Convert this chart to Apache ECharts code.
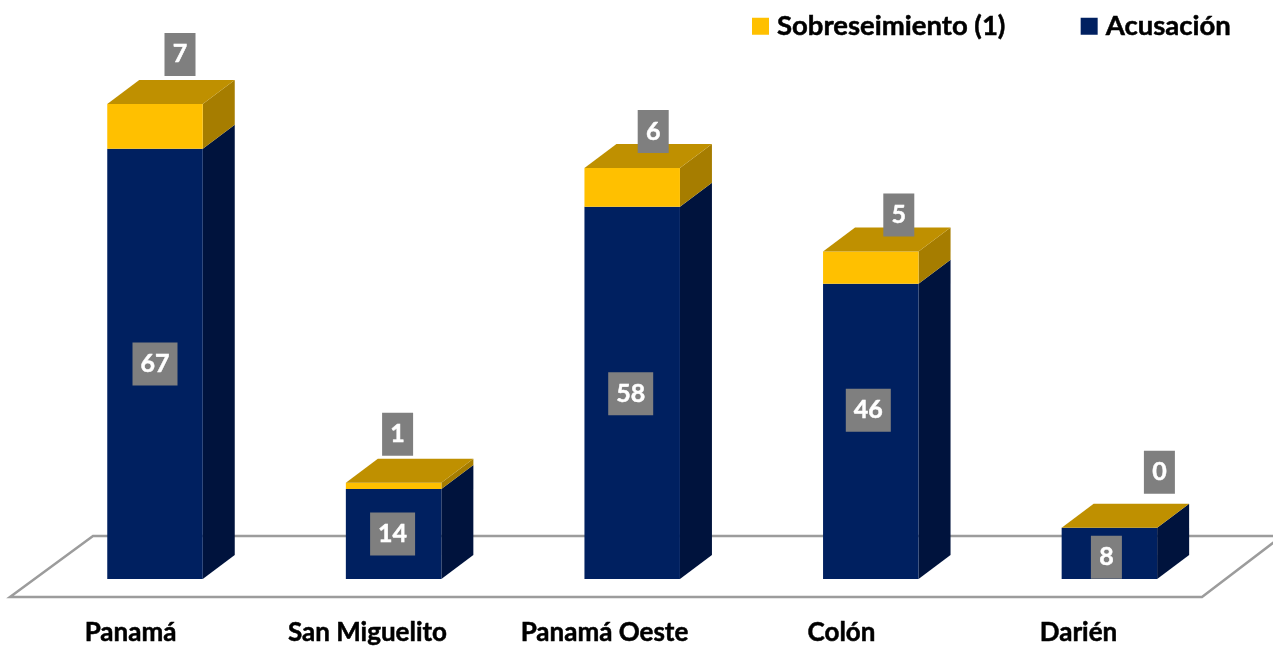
<!DOCTYPE html>
<html>
<head>
<meta charset="utf-8">
<style>html,body{margin:0;padding:0;background:#fff}#c{width:1273px;height:646px}</style>
<script src="https://cdn.jsdelivr.net/npm/echarts@6/dist/echarts.min.js"></script>
</head>
<body>
<div id="c"></div>
<script>
const categories = ['Panamá', 'San Miguelito', 'Panamá Oeste', 'Colón', 'Darién'];
const acusacion = [67, 14, 58, 46, 8];
const sobreseimiento = [7, 1, 6, 5, 0];

const FONT = 'Lato';
const BAR_W = 95.5, DX = 32, DY = 24;
const COLORS = {
  acus: {front: '#002060', side: '#00133D'},
  sobre: {front: '#FFC000', side: '#A67D00', top: '#BF9000'}
};
// hand-placed label offsets, as in the source slide
const sobreLabelDx = [25, 4, 21, 28, 50];
const sobreLabelDy = [-49.5, -48.5, -36.5, -36.5, -55.5];
const acusLabelDx = [0, -1, -1.5, -2.5, -3];
const acusLabelDy = [0, 0, 1, -21, 4];

function labelBox(cx, cy, text) {
  const w = String(text).length > 1 ? 45 : 31, h = 43;
  return [
    {type: 'rect', shape: {x: cx - w / 2, y: cy - h / 2, width: w, height: h}, style: {fill: '#7F7F7F'}, z2: 20},
    {type: 'text', style: {x: cx, y: cy, text: String(text), fill: '#fff', stroke: '#fff', lineWidth: 0.5, font: '700 25px ' + FONT, align: 'center', verticalAlign: 'middle'}, z2: 21}
  ];
}

function renderBar(kind) {
  return function (params, api) {
    const i = api.value(0);
    const low = api.coord([i, api.value(1)]);
    const high = api.coord([i, api.value(2)]);
    const l = low[0] - BAR_W / 2, r = low[0] + BAR_W / 2, b = low[1], t = high[1];
    const c = COLORS[kind];
    const children = [];
    if (b - t > 0) {
      children.push({type: 'polygon', shape: {points: [[r, b], [r + DX, b - DY], [r + DX, t - DY], [r, t]]}, style: {fill: c.side}});
      children.push({type: 'rect', shape: {x: l, y: t, width: BAR_W, height: b - t}, style: {fill: c.front}});
    }
    if (kind === 'sobre') {
      children.push({type: 'polygon', shape: {points: [[l, t], [l + DX, t - DY], [r + DX, t - DY], [r, t]]}, style: {fill: c.top}});
      children.push.apply(children, labelBox(low[0] + sobreLabelDx[i], t + sobreLabelDy[i], api.value(3)));
    } else {
      children.push.apply(children, labelBox(low[0] + acusLabelDx[i], (t + b) / 2 + acusLabelDy[i], api.value(3)));
    }
    return {type: 'group', children: children};
  };
}

const acusData = categories.map((c, i) => [i, 0, acusacion[i], acusacion[i]]);
const sobreData = categories.map((c, i) => [i, acusacion[i], acusacion[i] + sobreseimiento[i], sobreseimiento[i]]);

const chart = echarts.init(document.getElementById('c'), null, {renderer: 'canvas'});
chart.setOption({
  animation: false,
  backgroundColor: '#fff',
  grid: [
    {left: 35.7, right: 44.3, top: 65.4, bottom: 67},
    // the category labels sit on a slightly tighter spacing than the bars
    {left: 12, width: 1185, top: 65.4, bottom: 67}
  ],
  legend: {
    left: 747, top: 7, icon: 'rect', itemWidth: 17, itemHeight: 17, itemGap: 75,
    data: ['Sobreseimiento (1)', 'Acusación'],
    textStyle: {fontFamily: FONT, fontWeight: 700, fontSize: 27.5, color: '#000', textBorderColor: '#000', textBorderWidth: 0.5, padding: [0, 0, 0, 3]},
    selectedMode: false
  },
  xAxis: [
    {type: 'category', data: categories, gridIndex: 0, axisLine: {show: false}, axisTick: {show: false}, axisLabel: {show: false}},
    {type: 'category', data: categories, gridIndex: 1, axisLine: {show: false}, axisTick: {show: false},
     axisLabel: {fontFamily: FONT, fontWeight: 700, fontSize: 26, color: '#000', textBorderColor: '#000', textBorderWidth: 0.5, margin: 42, interval: 0}}
  ],
  yAxis: [
    {type: 'value', gridIndex: 0, min: 0, max: 80, show: false, splitLine: {show: false}},
    {type: 'value', gridIndex: 1, min: 0, max: 80, show: false, splitLine: {show: false}}
  ],
  graphic: [{
    type: 'polyline', silent: true, z: 0,
    shape: {points: [[1290, 536], [93, 536], [10, 597], [1202, 597], [1290, 530]]},
    style: {fill: null, stroke: '#9C9C9C', lineWidth: 2.5}
  }],
  series: [
    {name: 'Acusación', type: 'custom', z: 3, clip: false, renderItem: renderBar('acus'),
     itemStyle: {color: COLORS.acus.front}, encode: {x: 0, y: [1, 2]}, data: acusData},
    {name: 'Sobreseimiento (1)', type: 'custom', z: 4, clip: false, renderItem: renderBar('sobre'),
     itemStyle: {color: COLORS.sobre.front}, encode: {x: 0, y: [1, 2]}, data: sobreData}
  ]
});
</script>
</body>
</html>
